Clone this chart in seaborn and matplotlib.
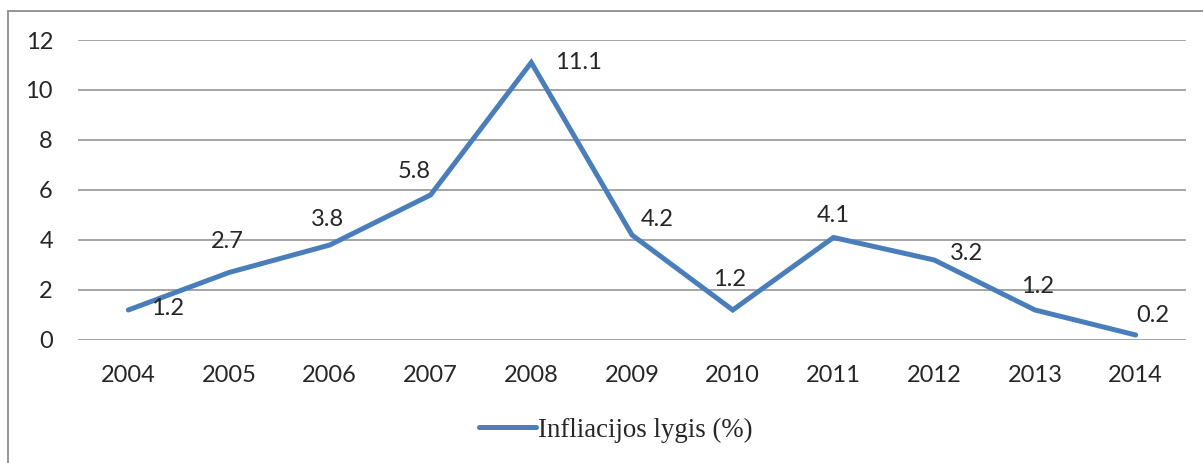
import pandas as pd
import matplotlib
matplotlib.use("Agg")
import matplotlib.pyplot as plt
import seaborn as sns

# duomenys nuskaityti is paveikslo
years = ["2004", "2005", "2006", "2007", "2008", "2009", "2010", "2011", "2012", "2013", "2014"]
inflation = [1.2, 2.7, 3.8, 5.8, 11.1, 4.2, 1.2, 4.1, 3.2, 1.2, 0.2]
series_name = "Infliacijos lygis (%)"

# kur deti reiksmiu etiketes (taskais nuo tasko)
label_offsets = [(28, 1), (-1, 22), (-2, 18), (-12, 17), (34, 0), (18, 11),
                 (-2, 22), (0, 16), (23, 5), (2, 17), (12, 14)]

df = pd.DataFrame({"year": years, "value": inflation})

sns.set_style("white")
plt.rcParams["font.family"] = ["Lato", "DejaVu Sans"]

fig = plt.figure(figsize=(12.03, 4.63), dpi=100)
ax = fig.add_axes([0.0648, 0.2657, 0.9211, 0.6479])

line_color = "#4A7EBB"
sns.lineplot(data=df, x="year", y="value", ax=ax, color=line_color, linewidth=3.6,
             label=series_name, solid_capstyle="round", solid_joinstyle="miter", sort=False)

ax.set_xlim(-0.5, len(years) - 0.5)
ax.set_ylim(0, 12)
ax.set_yticks(range(0, 13, 2))
ax.yaxis.grid(True, color="#8c8c8c", linewidth=1.1)
ax.xaxis.grid(False)
ax.set_axisbelow(True)
for s in ax.spines.values():
    s.set_visible(False)
ax.tick_params(axis="both", length=0, labelsize=17, pad=18)
ax.set_xlabel("")
ax.set_ylabel("")

for i, (v, off) in enumerate(zip(inflation, label_offsets)):
    ax.annotate(f"{v:.1f}", (i, v), xytext=off, textcoords="offset points",
                ha="center", va="center", fontsize=17)

ax.legend(loc="center", bbox_to_anchor=(0.512, 0.071), bbox_transform=fig.transFigure,
          frameon=False, handlelength=2.1, handletextpad=0.1,
          prop={"family": "Liberation Serif", "size": 19.4})

# ramelis aplink diagrama (kairys ir virsutinis krastai)
fig.add_artist(plt.Line2D([8 / 1203, 8 / 1203], [0, 1 - 11 / 463], transform=fig.transFigure,
                          color="#8c8c8c", linewidth=1.3))
fig.add_artist(plt.Line2D([8 / 1203, 1], [1 - 11 / 463, 1 - 11 / 463], transform=fig.transFigure,
                          color="#8c8c8c", linewidth=1.3))

fig.savefig("out.png", dpi=100)
